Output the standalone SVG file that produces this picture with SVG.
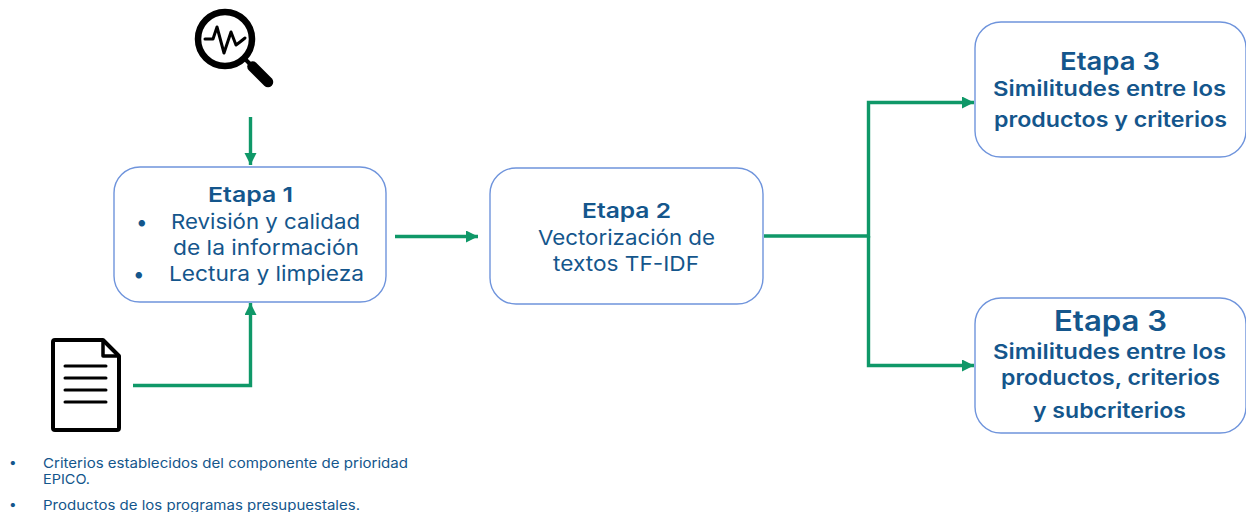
<svg xmlns="http://www.w3.org/2000/svg" width="1246" height="512" viewBox="0 0 1246 512">
<style>
.box{fill:#fff;stroke:#6f94dc;stroke-width:1.4}
text{font-family:Inter,"Open Sans","Liberation Sans",sans-serif;fill:#14568c;text-anchor:start;font-weight:400}
.r{font-size:20.500px}
.b{font-weight:600}
.s{font-size:13.500px}
.c{fill:none;stroke:#0f9868;stroke-width:3.4}
.ic{fill:none;stroke:#000;stroke-linejoin:round;stroke-linecap:round}
</style>
<defs>
<marker id="a" markerUnits="userSpaceOnUse" markerWidth="14" markerHeight="14" refX="12" refY="6" orient="auto"><path d="M0 0L12 6L0 12Z" fill="#0f9868"/></marker>
</defs>
<g id="connectors">
<path class="c" marker-end="url(#a)" d="M250.500 117V165"/>
<path class="c" marker-end="url(#a)" d="M133 385.500H250.500V303"/>
<path class="c" marker-end="url(#a)" d="M395 236.500H478"/>
<path class="c" marker-end="url(#a)" d="M764 236H868.500V102.500H974"/>
<path class="c" marker-end="url(#a)" d="M868.500 236V365.500H974"/>
</g>
<g id="icon-search">
<circle class="ic" cx="225" cy="39" r="27" stroke-width="6.500"/>
<path class="ic" stroke-width="3" d="M205 39H213L217 27L224 53L231 32L236 45L240 42L245 38"/>
<path class="ic" stroke-width="4" d="M246 60L251 65"/>
<path class="ic" stroke-width="10.500" d="M252.500 66.500L268 82"/>
</g>
<g id="icon-document">
<path class="ic" stroke-width="4" d="M55 340H103L119 356V428A2 2 0 0 1 117 430H55A2 2 0 0 1 53 428V342A2 2 0 0 1 55 340Z"/>
<path class="ic" stroke-width="3.500" d="M103 341V356H118"/>
<path class="ic" stroke-width="3" d="M65 366H106M65 378H106M65 390H106M65 402H106"/>
</g>
<g id="etapa1">
<rect class="box" x="114" y="167" width="272" height="135" rx="26"/>
<text class="r b" x="208" y="201.500" textLength="85" lengthAdjust="spacingAndGlyphs">Etapa 1</text>
<text class="r" x="136" y="228.500">•</text>
<text class="r" x="171" y="228.500" textLength="189" lengthAdjust="spacingAndGlyphs">Revisión y calidad</text>
<text class="r" x="173" y="254.500" textLength="186" lengthAdjust="spacingAndGlyphs">de la información</text>
<text class="r" x="133" y="280.500">•</text>
<text class="r" x="169" y="280.500" textLength="195" lengthAdjust="spacingAndGlyphs">Lectura y limpieza</text>
</g>
<g id="etapa2">
<rect class="box" x="490" y="168" width="273" height="136" rx="26"/>
<text class="r b" x="582" y="217.500" textLength="89" lengthAdjust="spacingAndGlyphs">Etapa 2</text>
<text class="r" x="538" y="244.500" textLength="177" lengthAdjust="spacingAndGlyphs">Vectorización de</text>
<text class="r" x="553" y="270.500" textLength="146" lengthAdjust="spacingAndGlyphs">textos TF-IDF</text>
</g>
<g id="etapa3a">
<rect class="box" x="975" y="22" width="271" height="135" rx="26"/>
<text class="b" x="1060" y="69.500" font-size="24.500" textLength="100" lengthAdjust="spacingAndGlyphs">Etapa 3</text>
<text class="r b" x="993" y="95.500" textLength="233" lengthAdjust="spacingAndGlyphs">Similitudes entre los</text>
<text class="r b" x="994" y="126.500" textLength="233" lengthAdjust="spacingAndGlyphs">productos y criterios</text>
</g>
<g id="etapa3b">
<rect class="box" x="975" y="298" width="271" height="135" rx="26"/>
<text class="b" x="1054" y="331" font-size="28" textLength="113" lengthAdjust="spacingAndGlyphs">Etapa 3</text>
<text class="r b" x="993" y="359" textLength="233" lengthAdjust="spacingAndGlyphs">Similitudes entre los</text>
<text class="r b" x="1001" y="385" textLength="219" lengthAdjust="spacingAndGlyphs">productos, criterios</text>
<text class="r b" x="1033" y="418" textLength="153" lengthAdjust="spacingAndGlyphs">y subcriterios</text>
</g>
<g id="notes">
<text class="s" x="9" y="467">•</text>
<text class="s" x="43" y="468" textLength="365" lengthAdjust="spacingAndGlyphs">Criterios establecidos del componente de prioridad</text>
<text class="s" x="43" y="484" textLength="47" lengthAdjust="spacingAndGlyphs">EPICO.</text>
<text class="s" x="9" y="509">•</text>
<text class="s" x="43" y="510" textLength="317" lengthAdjust="spacingAndGlyphs">Productos de los programas presupuestales.</text>
</g>
</svg>
